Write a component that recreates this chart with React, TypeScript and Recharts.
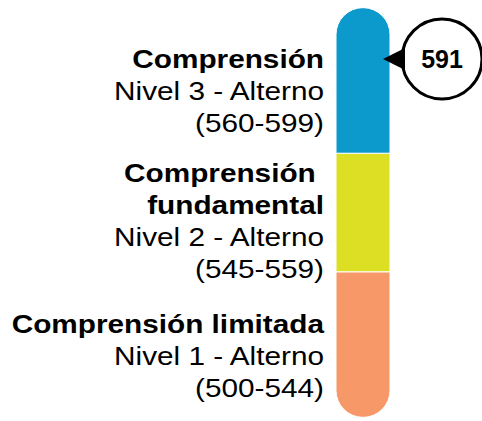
import { BarChart, Bar, XAxis, YAxis, ReferenceDot } from "recharts";

// levels from bottom to top
const levelKeys = ["nivel1", "nivel2", "nivel3"];
const levelTitles = [["Comprensión limitada"], ["Comprensión ", "fundamental"], ["Comprensión"]];
const levelNames = ["Nivel 1 - Alterno", "Nivel 2 - Alterno", "Nivel 3 - Alterno"];
const levelRanges = [
  [500, 544],
  [545, 559],
  [560, 599],
];
const levelColors = ["#F79868", "#DDDF24", "#0C9ACD"];
const score = 591;

// each level takes one unit of height on the bar
const chartRow = [
  { name: "puntaje", ...Object.fromEntries(levelKeys.map((k) => [k, 1])) },
];

// where the score falls on the level scale
const scoreLevel = levelRanges.findIndex(([lo, hi]) => score >= lo && score <= hi);
const [scoreLo, scoreHi] = levelRanges[scoreLevel];
const scorePos = scoreLevel + (score - scoreLo) / (scoreHi - scoreLo);

const FONT = "'Liberation Sans', Arial, sans-serif";
const LINE = 32;
const labelShift = [28, 11.5, 0];

function Segment(props: any) {
  const { x, y, width, height, fill, cap } = props;
  const r = width / 2;
  let d = `M${x},${y} H${x + width} V${y + height} H${x} Z`;
  if (cap === "top") {
    d = `M${x},${y + height} V${y} A${r},${r} 0 0 1 ${x + width},${y} V${y + height} Z`;
  } else if (cap === "bottom") {
    d = `M${x},${y} H${x + width} V${y + height} A${r},${r} 0 0 1 ${x},${y + height} Z`;
  }
  return <path d={d} fill={fill} stroke="#fff" strokeWidth={1} />;
}

function LevelTick(props: any) {
  const { y, payload } = props;
  const i = Math.floor(payload.value);
  const lines = [
    ...levelTitles[i].map((t) => ({ t, bold: true })),
    { t: levelNames[i], bold: false },
    { t: `(${levelRanges[i][0]}-${levelRanges[i][1]})`, bold: false },
  ];
  const first = y - ((lines.length - 1) * LINE) / 2 + 6 + labelShift[i];
  return (
    <g>
      {lines.map((l, k) => (
        <g key={k} transform={`translate(324,${first + k * LINE}) scale(1.19,1)`}>
          <text
            x={0}
            y={0}
            textAnchor="end"
            fontFamily={FONT}
            fontSize={25}
            fontWeight={l.bold ? 700 : 400}
            fill="#000"
            style={{ whiteSpace: "pre" }}
          >
            {l.t}
          </text>
        </g>
      ))}
    </g>
  );
}

function ScoreBubble(props: any) {
  const { cx, cy } = props;
  const tip = cx + 20;
  const ccx = cx + 79;
  const ccy = cy;
  const r = 40;
  return (
    <g>
      <circle cx={ccx} cy={ccy} r={r} fill="#fff" stroke="#000" strokeWidth={3} />
      <path d={`M${tip},${cy} L${ccx - r + 3},${cy - 11} L${ccx - r + 3},${cy + 11} Z`} fill="#000" />
      <text
        x={ccx}
        y={ccy + 9}
        textAnchor="middle"
        fontFamily={FONT}
        fontSize={25}
        fontWeight={700}
        fill="#000"
      >
        {score}
      </text>
    </g>
  );
}

export default function App() {
  return (
    <div style={{ position: "absolute", left: 0, top: 0, width: 482, height: 421, background: "#fff" }}>
      <BarChart
        width={482}
        height={421}
        data={chartRow}
        margin={{ top: 5, right: 89, bottom: 1, left: 0 }}
        barCategoryGap={0}
      >
        <XAxis dataKey="name" type="category" hide />
        <YAxis
          type="number"
          domain={[-0.25, 3.25]}
          ticks={levelKeys.map((_, i) => i + 0.5)}
          width={333}
          axisLine={false}
          tickLine={false}
          tick={<LevelTick />}
        />
        {levelKeys.map((k, i) => (
          <Bar
            key={k}
            dataKey={k}
            stackId="niveles"
            fill={levelColors[i]}
            barSize={60}
            isAnimationActive={false}
            shape={(p: any) => (
              <Segment {...p} cap={i === 0 ? "bottom" : i === levelKeys.length - 1 ? "top" : "none"} />
            )}
          />
        ))}
        <ReferenceDot
          x="puntaje"
          y={scorePos}
          ifOverflow="visible"
          shape={(p: any) => <ScoreBubble {...p} />}
        />
      </BarChart>
    </div>
  );
}
